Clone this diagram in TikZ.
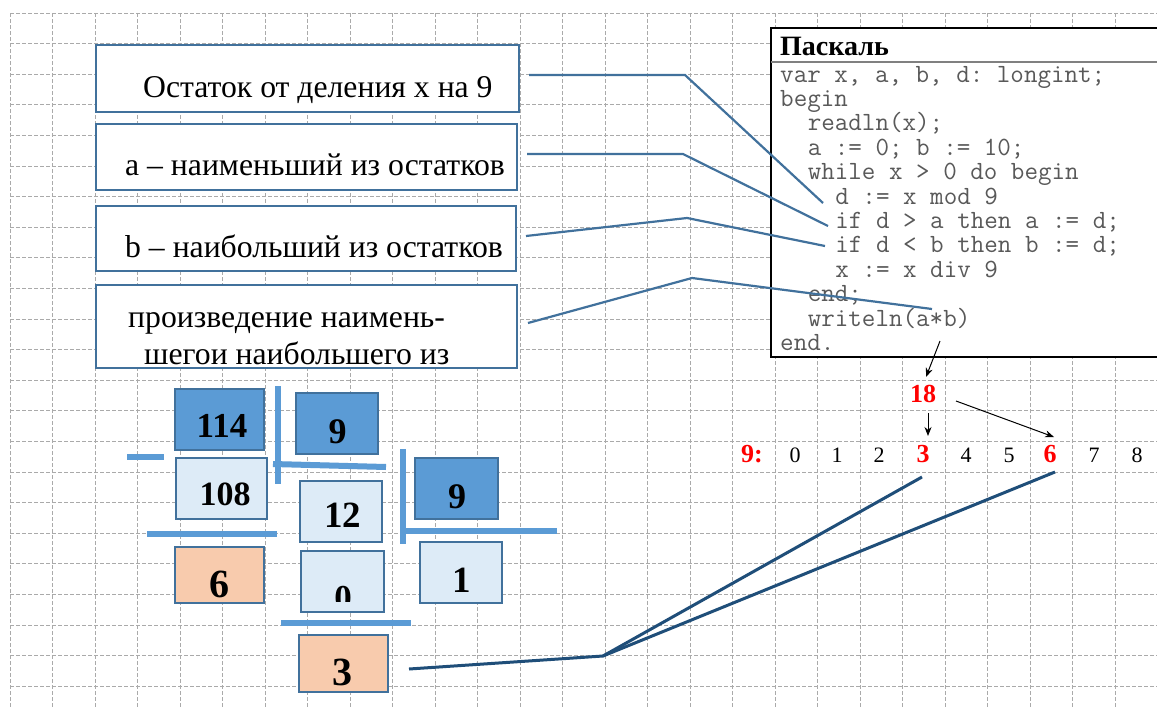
\documentclass[tikz,border=0pt]{standalone}
\usepackage{fontspec}
\setmainfont{Liberation Serif}
\usetikzlibrary{arrows.meta}
\definecolor{bordblue}{HTML}{41719C}
\definecolor{midblue}{HTML}{5B9BD5}
\definecolor{lightblue}{HTML}{DDEBF7}
\definecolor{peach}{HTML}{F8CBAD}
\definecolor{navy}{HTML}{1F4E79}
\definecolor{codegray}{HTML}{595959}
\definecolor{gridgray}{HTML}{AAAAAA}
\definecolor{red0}{HTML}{FF0000}
\begin{document}
\frenchspacing
\begin{tikzpicture}[x=1pt,y=-1pt,
  gridline/.style={draw=gridgray,line width=1pt,dash pattern=on 4pt off 2pt},
  lbox/.style={draw=bordblue,line width=2pt,fill=white,inner sep=0pt},
  ltext/.style={anchor=base west,inner sep=0pt,font=\fontsize{31.7}{36}\selectfont},
  nbox/.style={draw=bordblue,line width=2.2pt,inner sep=0pt},
  darkbox/.style={nbox,fill=midblue},
  litebox/.style={nbox,fill=lightblue},
  peachbox/.style={nbox,fill=peach},
  ntext/.style={anchor=base,inner sep=0pt,font=\bfseries\fontsize{#1}{#1}\selectfont},
  bar/.style={draw=midblue,line width=6pt},
  conn/.style={draw=bordblue,line width=2.2pt},
  navyline/.style={draw=navy,line width=3pt},
  codetext/.style={anchor=base west,inner sep=0pt,text=codegray,font=\ttfamily\fontsize{26.3}{26}\selectfont},
  arr/.style={draw=black,line width=1pt,-{Stealth[length=9pt,width=7pt]}},
  digit/.style={anchor=base,inner sep=0pt,font=\fontsize{22}{22}\selectfont},
  reddigit/.style={anchor=base,inner sep=0pt,text=red0,font=\bfseries\fontsize{26}{26}\selectfont}]
\useasboundingbox (0,0) rectangle (1157,707);
\fill[white] (0,0) rectangle (1157,707);
% grid
\foreach \i in {0,...,27} \draw[gridline] (10+42.5*\i,13) -- (10+42.5*\i,707);
\foreach \j in {0,...,22} \draw[gridline] (10,13+30.6*\j) -- (1157,13+30.6*\j);

% left label boxes
\node[lbox,minimum width=423pt,minimum height=67pt] (b1) at (307.5,78.5) {};
\node[lbox,minimum width=421pt,minimum height=66pt] (b2) at (306.5,157) {};
\node[lbox,minimum width=420pt,minimum height=65pt] (b3) at (306,238.5) {};
\node[lbox,minimum width=421pt,minimum height=83pt] (b4) at (306.5,326.5) {};
\node[ltext] (t1) at (143,97) {Остаток от деления x на 9};
\node[ltext] (t2) at (125,175) {a – наименьший из остатков};
\node[ltext] (t3) at (125,257) {b – наибольший из остатков};
\node[ltext] (t4a) at (128,327) {произведение наимень-};
\node[ltext] (t4b) at (144,364) {шегои наибольшего из};

% code box
\node[draw=black,line width=1.5pt,fill=white,minimum width=400pt,minimum height=329pt,inner sep=0pt] (code) at (971,192.5) {};
\draw[draw=gray,line width=2pt] (771,62) -- (1171,62);
\node[anchor=base west,inner sep=0pt,font=\bfseries\fontsize{28}{28}\selectfont] (title) at (780,55) {Паскаль};
\node[codetext] (c1) at (780,82) {var x, a, b, d: longint;};
\node[codetext] (c2) at (780,106.4) {begin};
\node[codetext] (c3) at (807.6,130.8) {readln(x);};
\node[codetext] (c4) at (807.6,155.2) {a := 0; b := 10;};
\node[codetext] (c5) at (807.6,179.6) {while x > 0 do begin};
\node[codetext] (c6) at (835.2,204) {d := x mod 9};
\node[codetext] (c7) at (835.2,228.4) {if d > a then a := d;};
\node[codetext] (c8) at (835.2,252.8) {if d < b then b := d;};
\node[codetext] (c9) at (835.2,277.2) {x := x div 9};
\node[codetext] (c10) at (807.6,301.6) {end;};
\node[codetext] (c11) at (807.6,326) {writeln(a*b)};
\node[codetext] (c12) at (780,350.4) {end.};

% connectors from label boxes to code
\coordinate (s1) at (529,75); \coordinate (k1) at (685,75); \coordinate (e1) at (823,203);
\coordinate (s2) at (527,154); \coordinate (k2) at (683,154); \coordinate (e2) at (828,226);
\coordinate (s3) at (526,236); \coordinate (k3) at (687,218); \coordinate (e3) at (825,246);
\coordinate (s4) at (528,323); \coordinate (k4) at (692,278); \coordinate (e4) at (932,309);
\draw[conn] (s1) -- (k1) -- (e1);
\draw[conn] (s2) -- (k2) -- (e2);
\draw[conn] (s3) -- (k3) -- (e3);
\draw[conn] (s4) -- (k4) -- (e4);

% division boxes
\node[darkbox,minimum width=89pt,minimum height=61pt] (n114) at (219.5,419.5) {};
\node[darkbox,minimum width=82pt,minimum height=61pt] (n9a) at (337,423.5) {};
\node[litebox,minimum width=91pt,minimum height=61pt] (n108) at (221.5,488.5) {};
\node[litebox,minimum width=82pt,minimum height=61pt] (n12) at (341,511.5) {};
\node[darkbox,minimum width=83pt,minimum height=61pt] (n9b) at (456.5,488.5) {};
\node[peachbox,minimum width=89pt,minimum height=56pt] (n6) at (219.5,575) {};
\node[litebox,minimum width=83pt,minimum height=61pt] (n0) at (342.5,581.5) {};
\node[litebox,minimum width=82pt,minimum height=61pt] (n1) at (461,572.5) {};
\node[peachbox,minimum width=89pt,minimum height=57pt] (n3) at (343.5,663.5) {};
\node[ntext=35] (d114) at (222,437) {114};
\node[ntext=36] (d9a) at (337.5,443) {9};
\node[ntext=34] (d108) at (225,505) {108};
\node[ntext=37] (d12) at (342.5,527) {12};
\node[ntext=36] (d9b) at (457,508) {9};
\node[ntext=40] (d6) at (219,597) {6};
\node[ntext=37] (d1) at (462,592) {1};
\node[ntext=40] (d3) at (342,685) {3};
\begin{scope}
\clip (301,551) rectangle (384,601);
\node[ntext=35] (d0) at (343,609) {0};
\end{scope}

% division bars
\draw[bar] (127,457) -- (164,457);
\draw[bar] (278,386) -- (278,484);
\draw[bar] (273,464) -- (386,467);
\draw[bar] (147,534) -- (277,534);
\draw[bar] (403,449) -- (403,544);
\draw[bar] (402,531) -- (557,531);
\draw[bar] (281,623) -- (411,623);

% remainders row
\node[reddigit] (r9) at (752,462) {9:};
\node[digit] (r0) at (795,462) {0};
\node[digit] (r1) at (837,462) {1};
\node[digit] (r2) at (879,462) {2};
\node[reddigit] (r3) at (923,462) {3};
\node[digit] (r4) at (966,462) {4};
\node[digit] (r5) at (1009,462) {5};
\node[reddigit] (r6) at (1050,462) {6};
\node[digit] (r7) at (1094,462) {7};
\node[digit] (r8) at (1137,462) {8};
\node[reddigit] (n18) at (923,402) {18};

% arrows
\coordinate (w1) at (940,341); \coordinate (w2) at (926,377);
\draw[arr] (w1) -- (w2);
\coordinate (a1) at (928,413); \coordinate (a2) at (928,436);
\draw[arr] (a1) -- (a2);
\coordinate (b1s) at (956,401); \coordinate (b1e) at (1054,437);
\draw[arr] (b1s) -- (b1e);

% navy lines
\coordinate (ls) at (409,669); \coordinate (apex) at (603,656);
\coordinate (l3) at (922,477); \coordinate (l6) at (1055,472);
\draw[navyline] (ls) -- (apex) -- (l3);
\draw[navyline] (apex) -- (l6);
\end{tikzpicture}
\end{document}
